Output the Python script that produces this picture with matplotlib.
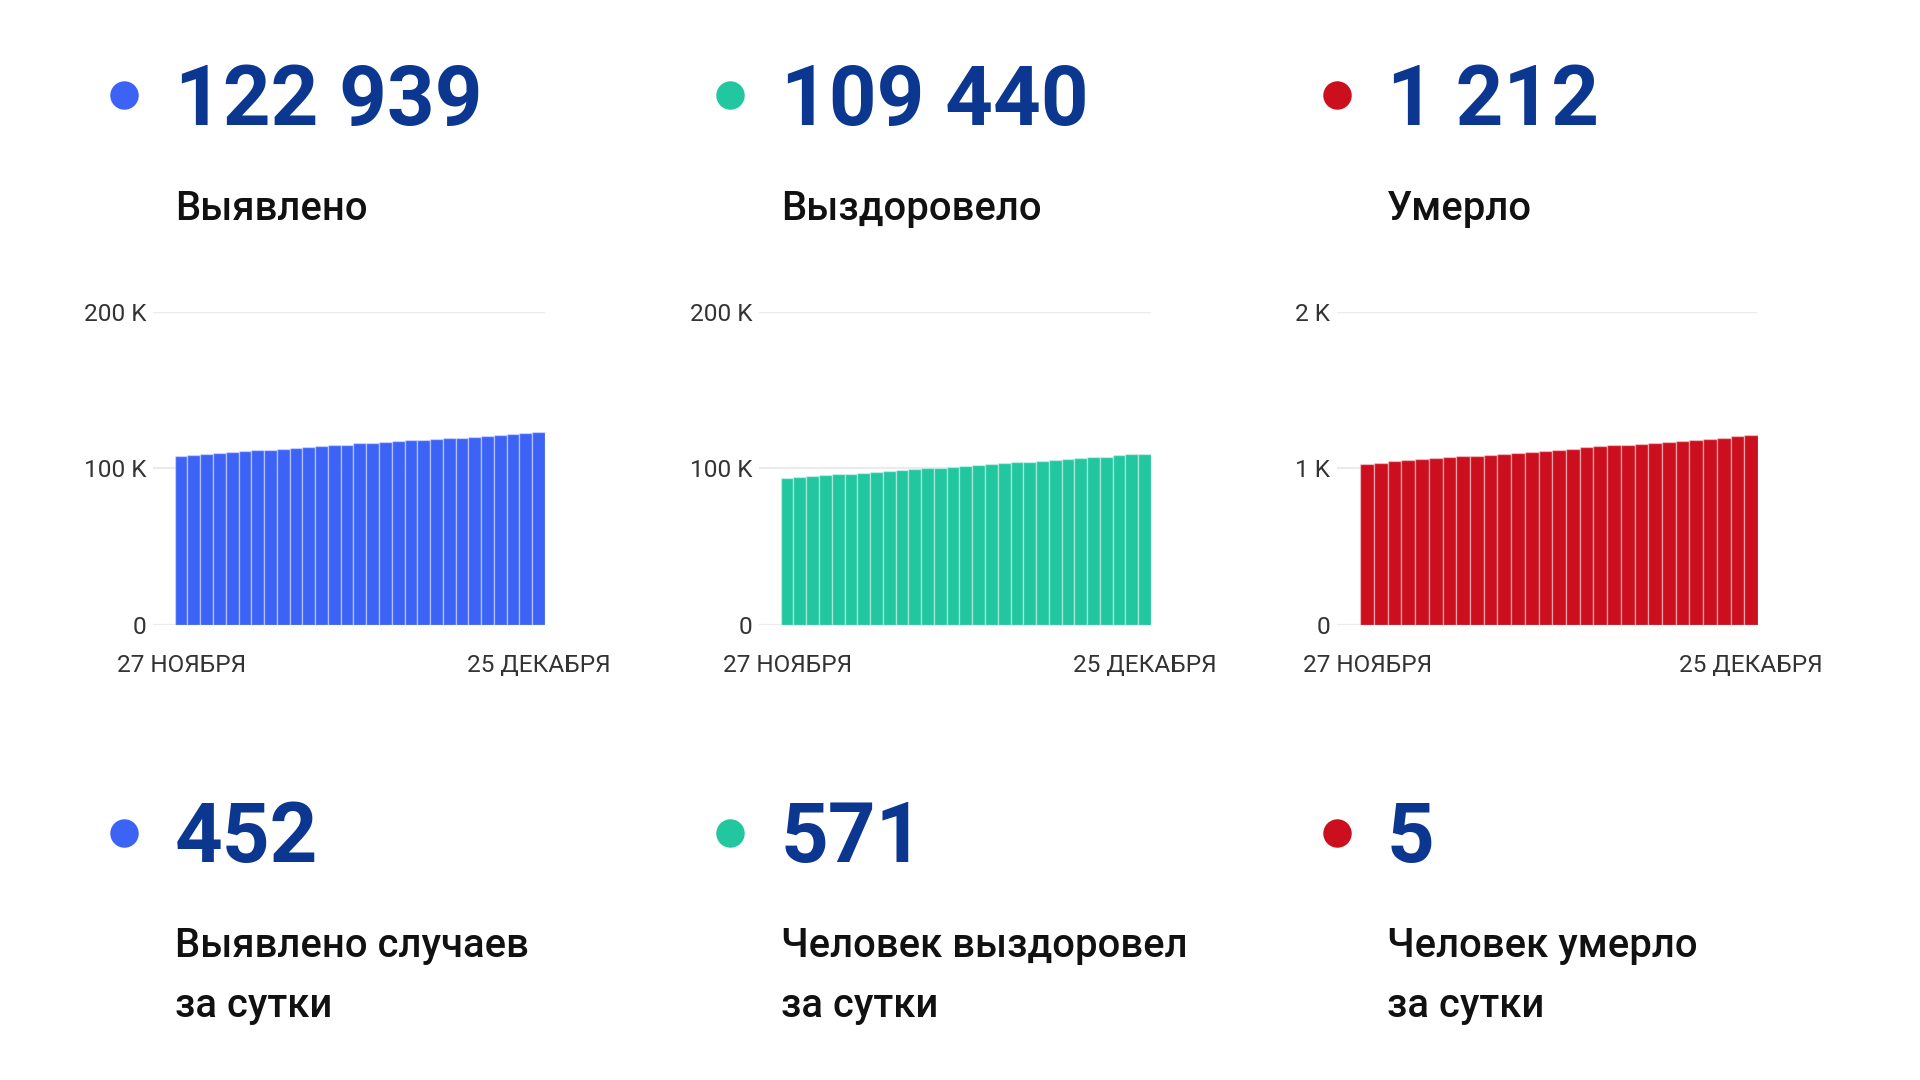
import matplotlib.pyplot as plt

# данные
days = ['27 НОЯБРЯ', '25 ДЕКАБРЯ']
found = [107900, 108400, 109200, 109900, 110500, 111100, 111600, 112000, 112500, 113100,
         113500, 114200, 114800, 115200, 115900, 116300, 116900, 117300, 117800, 118200,
         118700, 119100, 119600, 120100, 120700, 121300, 121900, 122487, 122939]
recovered = [94000, 94450, 95000, 95550, 96100, 96600, 97150, 97700, 98300, 98850,
             99400, 99900, 100450, 101000, 101550, 102050, 102600, 103150, 103700, 104250,
             104800, 105350, 105900, 106400, 106900, 107500, 108200, 108869, 109440]
died = [1030, 1036, 1045, 1050, 1058, 1066, 1072, 1078, 1080, 1083,
        1090, 1098, 1106, 1113, 1120, 1126, 1133, 1140, 1146, 1152,
        1158, 1163, 1168, 1174, 1180, 1188, 1196, 1207, 1212]

totals = ['122 939', '109 440', '1 212']
total_labels = ['Выявлено', 'Выздоровело', 'Умерло']
daily = ['452', '571', '5']
daily_labels = [['Выявлено случаев', 'за сутки'],
                ['Человек выздоровел', 'за сутки'],
                ['Человек умерло', 'за сутки']]
yticks = [[0, 100000, 200000], [0, 100000, 200000], [0, 1000, 2000]]
ylabels = [['0', '100 K', '200 K'], ['0', '100 K', '200 K'], ['0', '1 K', '2 K']]

colors = ['#3d63f6', '#22c7a0', '#cb0f1f']
navy = '#0b3790'

plt.rcParams['font.family'] = ['Roboto', 'DejaVu Sans']

W, H = 1920, 1080
fig = plt.figure(figsize=(19.2, 10.8), dpi=100)
fig.patch.set_facecolor('white')

def fx(x):
    return x / W

def fy(y):
    return 1 - y / H

# слой для точек
over = fig.add_axes([0, 0, 1, 1])
over.set_xlim(0, W)
over.set_ylim(H, 0)
over.axis('off')

dot_x = [124, 730, 1337]
text_x = [175, 781, 1387]
ax_left = [153, 759, 1337]
ax_right = [545, 1151, 1758]
series = [found, recovered, died]

for i in range(3):
    # верхний блок
    over.scatter([dot_x[i], dot_x[i]], [95, 833], s=420, color=colors[i], linewidths=0)
    fig.text(fx(text_x[i]), fy(125), totals[i], fontsize=60, fontweight='bold', color=navy, va='baseline')
    fig.text(fx(text_x[i]), fy(220), total_labels[i], fontsize=28.8, fontweight='medium', color='#111111', va='baseline')

    # нижний блок
    fig.text(fx(text_x[i]), fy(862), daily[i], fontsize=60, fontweight='bold', color=navy, va='baseline')
    fig.text(fx(text_x[i]), fy(957), daily_labels[i][0], fontsize=28.8, fontweight='medium', color='#111111', va='baseline')
    fig.text(fx(text_x[i]), fy(1017), daily_labels[i][1], fontsize=28.8, fontweight='medium', color='#111111', va='baseline')

    # график
    ax = fig.add_axes([fx(ax_left[i]), fy(624.5), (ax_right[i] - ax_left[i]) / W, 312.5 / H])
    vals = series[i]
    xs = list(range(len(vals)))
    ax.bar(xs, vals, width=1.0, color=colors[i], edgecolor=(1, 1, 1, 0.4), linewidth=1.0, zorder=2)
    for t in yticks[i]:
        ax.axhline(t, color='#ebebeb', lw=1.6, zorder=0)
    ax.set_xlim(-2.2, len(vals) - 0.5)
    ax.set_ylim(0, yticks[i][-1])
    ax.set_yticks(yticks[i])
    ax.set_yticklabels(ylabels[i])
    ax.set_xticks([0, len(vals) - 1])
    ax.set_xticklabels(days)
    ax.tick_params(axis='both', length=0, labelsize=17.6, labelcolor='#333333')
    ax.tick_params(axis='y', pad=5)
    ax.tick_params(axis='x', pad=21)
    for s in ax.spines.values():
        s.set_visible(False)
    ax.set_facecolor('none')

plt.savefig('out.png', dpi=100, facecolor='white')
